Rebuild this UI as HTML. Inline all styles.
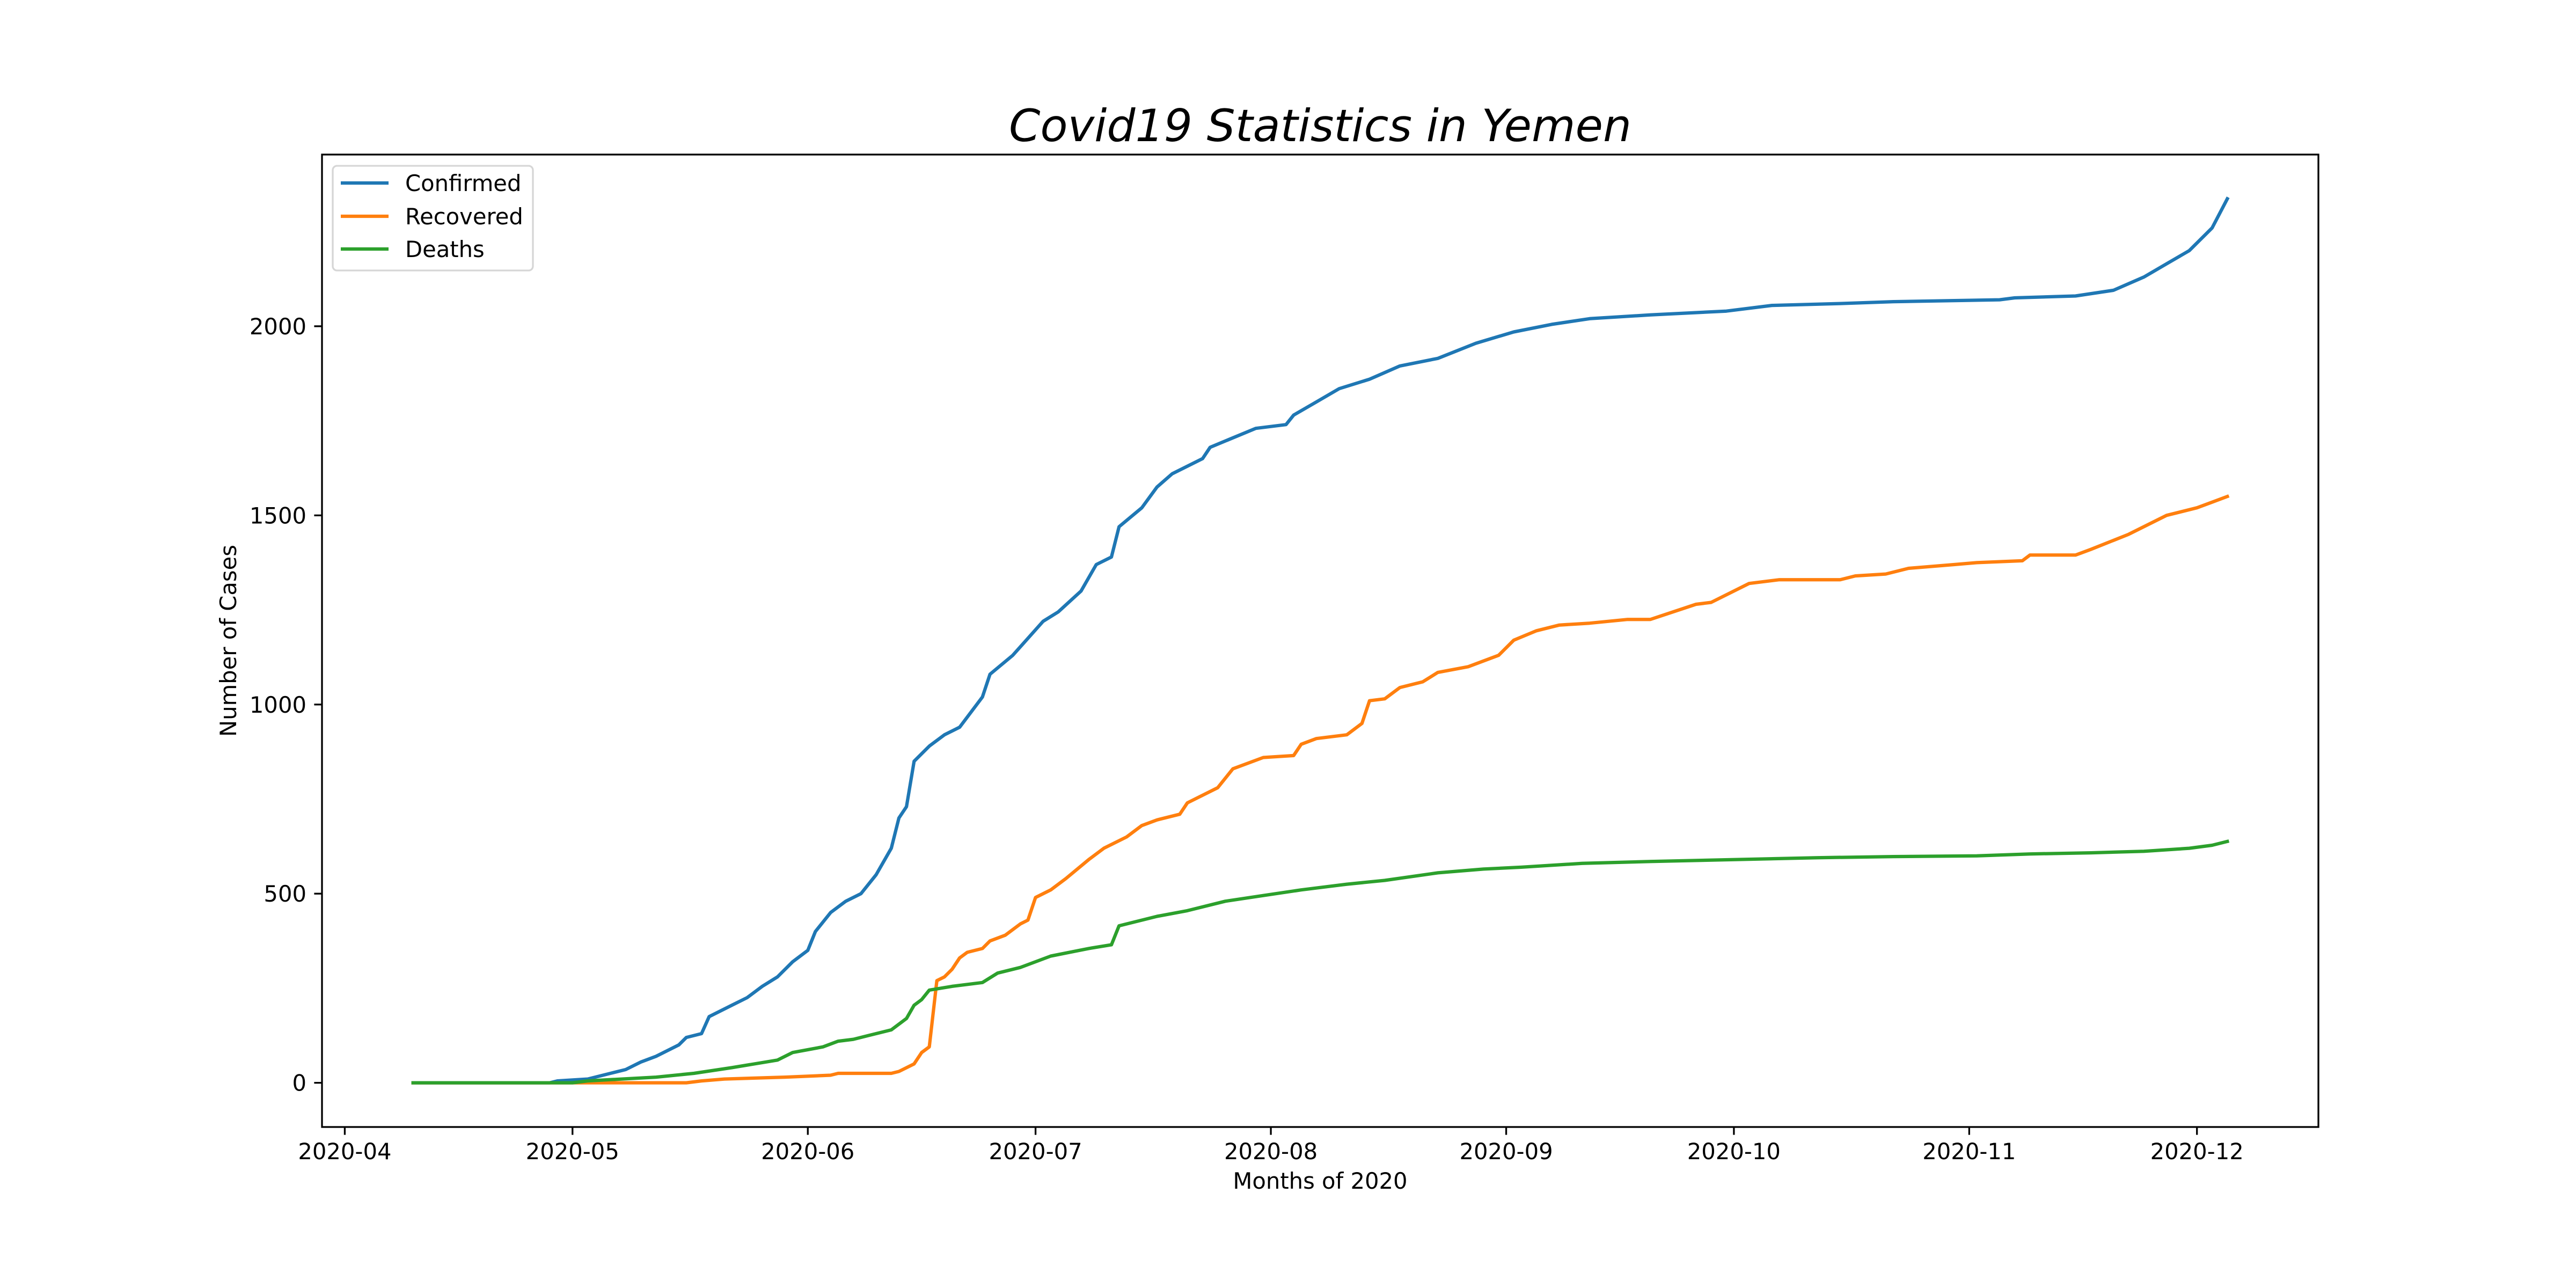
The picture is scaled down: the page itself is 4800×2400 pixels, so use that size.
<!DOCTYPE html>
<html><head><meta charset="utf-8"><style>
html,body{margin:0;padding:0;background:#fff;}
svg{display:block;font-family:"DejaVu Sans","Liberation Sans",sans-serif;}
</style></head><body>
<svg id="chart" width="4800" height="2400" viewBox="0 0 4800 2400" xmlns="http://www.w3.org/2000/svg">
<rect width="4800" height="2400" fill="#fff"/>
<text x="2460" y="263" font-size="83" font-style="italic" text-anchor="middle" textLength="1160" lengthAdjust="spacingAndGlyphs">Covid19 Statistics in Yemen</text>
<g id="plot"></g>
<g id="axes"></g>
<text x="2460" y="2215" font-size="41.7" text-anchor="middle">Months of 2020</text>
<text x="0" y="0" font-size="41.7" text-anchor="middle" transform="translate(440,1194) rotate(-90)">Number of Cases</text>
<g id="legend">
<rect x="620" y="309" width="373" height="195" rx="8" fill="#fff" fill-opacity="0.8" stroke="#d6d6d6" stroke-width="3.3"/>
<line x1="635" y1="341" x2="724" y2="341" stroke="#1f77b4" stroke-width="6.25"/>
<text x="755" y="356" font-size="41.7">Confirmed</text>
<line x1="635" y1="403" x2="724" y2="403" stroke="#ff7f0e" stroke-width="6.25"/>
<text x="755" y="418" font-size="41.7">Recovered</text>
<line x1="635" y1="464" x2="724" y2="464" stroke="#2ca02c" stroke-width="6.25"/>
<text x="755" y="479" font-size="41.7">Deaths</text>
</g>
</svg>
<script>
// Days since 2020-04-01 and values
const confirmedDays = [9,27,28,32,35,37,39,41,44,45,47,48,51,53,55,57,59,61,62,64,66,68,70,72,73,74,75,77,79,81,84,85,88,92,94,97,99,101,102,105,107,109,113,114,120,124,125,128,131,135,139,144,149,154,159,164,172,182,188,197,204,218,220,228,233,237,240,243,246,248];
const confirmedValues = [0,0,5,10,25,35,55,70,100,120,130,175,205,225,255,280,320,350,400,450,480,500,550,620,700,730,850,890,920,940,1020,1080,1130,1220,1245,1300,1370,1390,1470,1520,1575,1610,1650,1680,1730,1740,1765,1800,1835,1860,1895,1915,1955,1985,2005,2020,2030,2040,2055,2060,2065,2070,2075,2080,2095,2130,2165,2200,2260,2337];
const recoveredDays = [9,45,47,50,58,64,65,72,73,75,76,77,78,79,80,81,82,84,85,87,89,90,91,93,95,98,100,103,105,107,110,111,115,117,121,125,126,128,132,134,135,137,139,142,144,148,152,154,157,160,164,169,172,178,180,185,189,197,199,203,206,212,215,221,222,228,230,235,240,244,246,248];
const recoveredValues = [0,0,5,10,15,20,25,25,30,50,80,95,270,280,300,330,345,355,375,390,420,430,490,510,540,590,620,650,680,695,710,740,780,830,860,865,895,910,920,950,1010,1015,1045,1060,1085,1100,1130,1170,1195,1210,1215,1225,1225,1265,1270,1320,1330,1330,1340,1345,1360,1370,1375,1380,1395,1395,1410,1450,1500,1520,1535,1550];
const deathsDays = [9,30,32,41,46,51,57,59,63,65,67,69,72,74,75,76,77,80,84,86,89,93,98,101,102,107,111,116,121,126,132,137,144,150,155,163,172,183,194,204,215,222,230,237,243,246,248];
const deathsValues = [0,0,5,15,25,40,60,80,95,110,115,125,140,170,205,220,245,255,265,290,305,335,355,365,415,440,455,480,495,510,525,535,555,565,570,580,585,590,595,598,600,605,608,612,620,628,638];
const yTicks = [0,500,1000,1500,2000];
const xTickDays = [0,30,61,91,122,153,183,214,244];
const xTickLabels = ["2020-04","2020-05","2020-06","2020-07","2020-08","2020-09","2020-10","2020-11","2020-12"];

const L=600,R=4320,T=288,B=2100;
const XMIN=-3,XMAX=260,YMIN=-116.85,YMAX=2453.85;
const NS="http://www.w3.org/2000/svg";
function sx(d){return L+(d-XMIN)/(XMAX-XMIN)*(R-L);}
function sy(v){return B-(v-YMIN)/(YMAX-YMIN)*(B-T);}
function mk(tag,attrs,parent){const e=document.createElementNS(NS,tag);for(const k in attrs)e.setAttribute(k,attrs[k]);parent.appendChild(e);return e;}

const plot=document.getElementById('plot');
const axes=document.getElementById('axes');
function series(days,vals,color,name){
  const pts=days.map((d,i)=>sx(d).toFixed(1)+","+sy(vals[i]).toFixed(1)).join(" ");
  const p=mk('polyline',{points:pts,fill:'none',stroke:color,'stroke-width':6.25,'stroke-linejoin':'round','stroke-linecap':'square'},plot);
  
  
}
series(confirmedDays,confirmedValues,'#1f77b4','confirmed-line');
series(recoveredDays,recoveredValues,'#ff7f0e','recovered-line');
series(deathsDays,deathsValues,'#2ca02c','deaths-line');

const frame=mk('rect',{x:L,y:T,width:R-L,height:B-T,fill:'none',stroke:'#000','stroke-width':3.3},axes);



yTicks.forEach(v=>{
  const y=sy(v);
  const t=mk('line',{x1:L-14.6,y1:y,x2:L,y2:y,stroke:'#000','stroke-width':3.3},axes);
  
  
  const lb=mk('text',{x:L-29,y:y+15,'font-size':41.7,'text-anchor':'end'},axes);
  lb.textContent=String(v);
  
  
});
xTickDays.forEach((d,i)=>{
  const x=sx(d);
  const t=mk('line',{x1:x,y1:B,x2:x,y2:B+14.6,stroke:'#000','stroke-width':3.3},axes);
  
  
  const lb=mk('text',{x:x,y:B+60,'font-size':41.7,'text-anchor':'middle'},axes);
  lb.textContent=xTickLabels[i];
  
  
});
</script>
</body></html>
